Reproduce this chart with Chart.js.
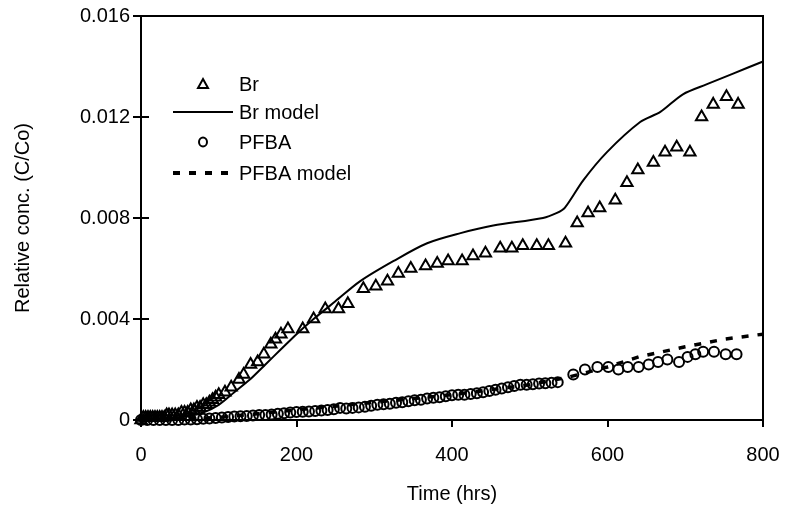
<!DOCTYPE html>
<html>
<head>
<meta charset="utf-8">
<script src="https://cdn.jsdelivr.net/npm/chart.js@4.4.1/dist/chart.umd.min.js"></script>
<style>
html, body { margin: 0; padding: 0; background: #fff; }
#wrap { width: 789px; height: 510px; }
</style>
</head>
<body>
<div id="wrap"><canvas id="breakthroughChart"></canvas></div>
<script>
// Br observed (triangles)
var brTime = [0, 3, 6, 9, 12, 15, 18, 21, 24, 27, 30, 33, 36, 40, 44, 48, 52, 56, 60, 64, 68, 72, 76, 80, 84, 88, 92, 96, 100,
    108, 116, 126, 132, 141, 150, 158, 167, 173, 180, 189, 208, 222, 237, 254, 266, 286, 302, 317, 331, 347, 366, 381, 395,
    413, 427, 443, 462, 477, 491, 509, 524, 546, 561, 575, 590, 610, 625, 639, 659, 674, 689, 706, 721, 736, 753, 768];
var brConc = [0, 0.0001, 0.0001, 0.0001, 0.0001, 0.0001, 0.0001, 0.0001, 0.0001, 0.0001, 0.0001, 0.0002, 0.0002, 0.0002, 0.0002, 0.0002,
    0.0003, 0.0003, 0.0003, 0.0004, 0.0004, 0.0005, 0.0005, 0.0006, 0.0006, 0.0007, 0.0008, 0.0009, 0.001,
    0.0011, 0.0013, 0.0016, 0.0018, 0.0022, 0.0023, 0.0026, 0.003, 0.0032, 0.0034, 0.0036, 0.0036, 0.004, 0.0044, 0.0044, 0.0046,
    0.0052, 0.0053, 0.0055, 0.0058, 0.006, 0.0061, 0.0062, 0.0063, 0.0063, 0.0065, 0.0066, 0.0068, 0.0068, 0.0069, 0.0069, 0.0069,
    0.007, 0.0078, 0.0082, 0.0084, 0.0087, 0.0094, 0.0099, 0.0102, 0.0106, 0.0108, 0.0106, 0.012, 0.0125, 0.0128, 0.0125];

// Br model (solid line)
var brModelTime = [0, 50, 80, 100, 120, 140, 160, 180, 200, 222, 250, 282, 325, 368, 411, 453, 517, 535, 545, 569, 599, 642, 668, 697, 728, 760, 800];
var brModelConc = [0, 0.0001, 0.0003, 0.0006, 0.0011, 0.0016, 0.0022, 0.0028, 0.0034, 0.004, 0.0047, 0.0055, 0.0063, 0.007, 0.0074,
    0.0077, 0.008, 0.0082, 0.0084, 0.0095, 0.0106, 0.0118, 0.0122, 0.0129, 0.0133, 0.0137, 0.0142];

// PFBA observed (circles)
var pfbaTime = [0, 8, 16, 24, 32, 40, 48, 56, 64, 72, 80, 88, 96, 104, 112, 120, 128, 136, 144, 152, 160, 168, 176, 184, 192, 200,
    208, 216, 224, 232, 240, 248, 256, 264, 272, 280, 288, 296, 304, 312, 320, 328, 336, 344, 352, 360, 368, 376, 384, 392, 400,
    408, 416, 424, 432, 440, 448, 456, 464, 472, 480, 488, 496, 504, 512, 520, 528, 536,
    556, 571, 587, 601, 614, 626, 640, 653, 665, 677, 692, 703, 713, 723, 737, 752, 766];
var pfbaConc = [0, 0, 0, 0, 0, 0, 0, 0.00002, 0.00002, 0.00003, 0.00005, 0.00006, 0.00008, 0.0001, 0.00012, 0.00014, 0.00015, 0.00016,
    0.00018, 0.0002, 0.0002, 0.00022, 0.00025, 0.00027, 0.0003, 0.00032, 0.00033, 0.00034, 0.00036, 0.00038, 0.0004, 0.00043,
    0.00048, 0.00046, 0.00048, 0.0005, 0.00052, 0.00056, 0.0006, 0.00062, 0.00064, 0.00068, 0.0007, 0.00074, 0.00078, 0.0008,
    0.00085, 0.00088, 0.0009, 0.00094, 0.00098, 0.001, 0.001, 0.00103, 0.00106, 0.0011, 0.00115, 0.0012, 0.00125, 0.0013,
    0.00135, 0.0014, 0.0014, 0.00142, 0.00145, 0.00146, 0.00148, 0.0015,
    0.0018, 0.002, 0.0021, 0.0021, 0.002, 0.0021, 0.0021, 0.0022, 0.0023, 0.0024, 0.0023, 0.0025, 0.0026, 0.0027, 0.0027, 0.0026, 0.0026];

// PFBA model (dashed line)
var pfbaModelTime = [0, 100, 200, 300, 400, 500, 550, 600, 640, 700, 750, 800];
var pfbaModelConc = [0, 0.0001, 0.0004, 0.0007, 0.001, 0.0014, 0.0017, 0.0021, 0.0025, 0.0029, 0.0032, 0.0034];

var yTicks = [0, 0.004, 0.008, 0.012, 0.016];
var xTicks = [0, 200, 400, 600, 800];
var seriesLabels = ['Br', 'Br model', 'PFBA', 'PFBA model'];

var FONT = '"Liberation Sans", Arial, sans-serif';
var FSIZE = 20;

function pairs(xs, ys) {
    return xs.map(function (x, i) { return { x: x, y: ys[i] }; });
}

// legend drawn inside the plot, like the original
var insideLegend = {
    id: 'insideLegend',
    afterDraw: function (chart) {
        var ctx = chart.ctx;
        var rowsY = [84, 112, 142, 173];
        ctx.save();
        ctx.fillStyle = '#000';
        ctx.strokeStyle = '#000';
        ctx.font = FSIZE + 'px ' + FONT;
        ctx.textBaseline = 'middle';
        ctx.textAlign = 'left';
        seriesLabels.forEach(function (lbl, i) {
            var y = rowsY[i];
            ctx.beginPath();
            if (i === 0) {
                ctx.lineWidth = 2;
                ctx.moveTo(203, y - 5);
                ctx.lineTo(208, y + 4);
                ctx.lineTo(198, y + 4);
                ctx.closePath();
                ctx.stroke();
            } else if (i === 1) {
                ctx.lineWidth = 2;
                ctx.moveTo(173, y);
                ctx.lineTo(233, y);
                ctx.stroke();
            } else if (i === 2) {
                ctx.lineWidth = 2;
                ctx.ellipse(203, y, 4, 4.5, 0, 0, Math.PI * 2);
                ctx.stroke();
            } else {
                ctx.lineWidth = 4;
                ctx.setLineDash([7, 9]);
                ctx.moveTo(173, y);
                ctx.lineTo(235, y);
                ctx.stroke();
                ctx.setLineDash([]);
            }
            ctx.fillText(lbl, 239, y + 1);
        });
        ctx.restore();
    }
};

// frame around plot plus inner half of the y ticks
var frame = {
    id: 'frame',
    afterDatasetsDraw: function (chart) {
        var a = chart.chartArea;
        var ctx = chart.ctx;
        var ys = chart.scales.y;
        ctx.save();
        ctx.strokeStyle = '#000';
        ctx.lineWidth = 2;
        ctx.strokeRect(a.left, a.top, a.right - a.left, a.bottom - a.top);
        yTicks.forEach(function (v) {
            var py = Math.round(ys.getPixelForValue(v));
            ctx.beginPath();
            ctx.moveTo(a.left, py);
            ctx.lineTo(a.left + 8, py);
            ctx.stroke();
        });
        ctx.restore();
    }
};

var ctx = document.getElementById('breakthroughChart').getContext('2d');
var chart = new Chart(ctx, {
    type: 'scatter',
    data: {
        datasets: [
            {
                label: seriesLabels[0],
                data: pairs(brTime, brConc),
                pointStyle: 'triangle',
                pointRadius: 6.5,
                borderColor: '#000',
                backgroundColor: 'rgba(255,255,255,0)',
                borderWidth: 2,
                clip: false
            },
            {
                label: seriesLabels[1],
                data: pairs(brModelTime, brModelConc),
                showLine: true,
                pointRadius: 0,
                borderColor: '#000',
                borderWidth: 2,
                tension: 0.3,
                clip: false
            },
            {
                label: seriesLabels[2],
                data: pairs(pfbaTime, pfbaConc),
                pointStyle: 'circle',
                pointRadius: 5,
                borderColor: '#000',
                backgroundColor: 'rgba(255,255,255,0)',
                borderWidth: 2,
                clip: false
            },
            {
                label: seriesLabels[3],
                data: pairs(pfbaModelTime, pfbaModelConc),
                showLine: true,
                pointRadius: 0,
                borderColor: '#000',
                borderWidth: 3.5,
                borderDash: [7, 9],
                clip: false
            }
        ]
    },
    options: {
        responsive: true,
        maintainAspectRatio: false,
        animation: false,
        layout: { padding: { top: 16, right: 26, left: 0, bottom: 0 } },
        plugins: {
            legend: { display: false },
            tooltip: { enabled: false }
        },
        scales: {
            x: {
                type: 'linear',
                min: 0,
                max: 800,
                afterBuildTicks: function (s) { s.ticks = xTicks.map(function (v) { return { value: v }; }); },
                afterFit: function (s) { s.height = 90; s.paddingLeft = 0; s.paddingRight = 0; },
                grid: { display: true, drawOnChartArea: false, drawTicks: true, tickLength: 7, color: '#000', lineWidth: 2 },
                border: { display: true, color: '#000', width: 2 },
                ticks: { color: '#000', font: { family: FONT, size: FSIZE }, padding: 16, maxRotation: 0 },
                title: { display: true, text: 'Time (hrs)', color: '#000', font: { family: FONT, size: FSIZE }, padding: { top: 3 } }
            },
            y: {
                type: 'linear',
                min: 0,
                max: 0.016,
                afterBuildTicks: function (s) { s.ticks = yTicks.map(function (v) { return { value: v }; }); },
                afterFit: function (s) { s.width = 141; s.paddingTop = 0; s.paddingBottom = 0; },
                grid: { display: true, drawOnChartArea: false, drawTicks: true, tickLength: 8, color: '#000', lineWidth: 2 },
                border: { display: true, color: '#000', width: 2 },
                ticks: {
                    color: '#000',
                    font: { family: FONT, size: FSIZE },
                    padding: 3,
                    callback: function (v) { return v === 0 ? '0' : v.toFixed(3); }
                },
                title: { display: true, text: 'Relative conc. (C/Co)', color: '#000', font: { family: FONT, size: FSIZE }, padding: { top: 11, bottom: 0 } }
            }
        }
    },
    plugins: [frame, insideLegend]
});
</script>
</body>
</html>
